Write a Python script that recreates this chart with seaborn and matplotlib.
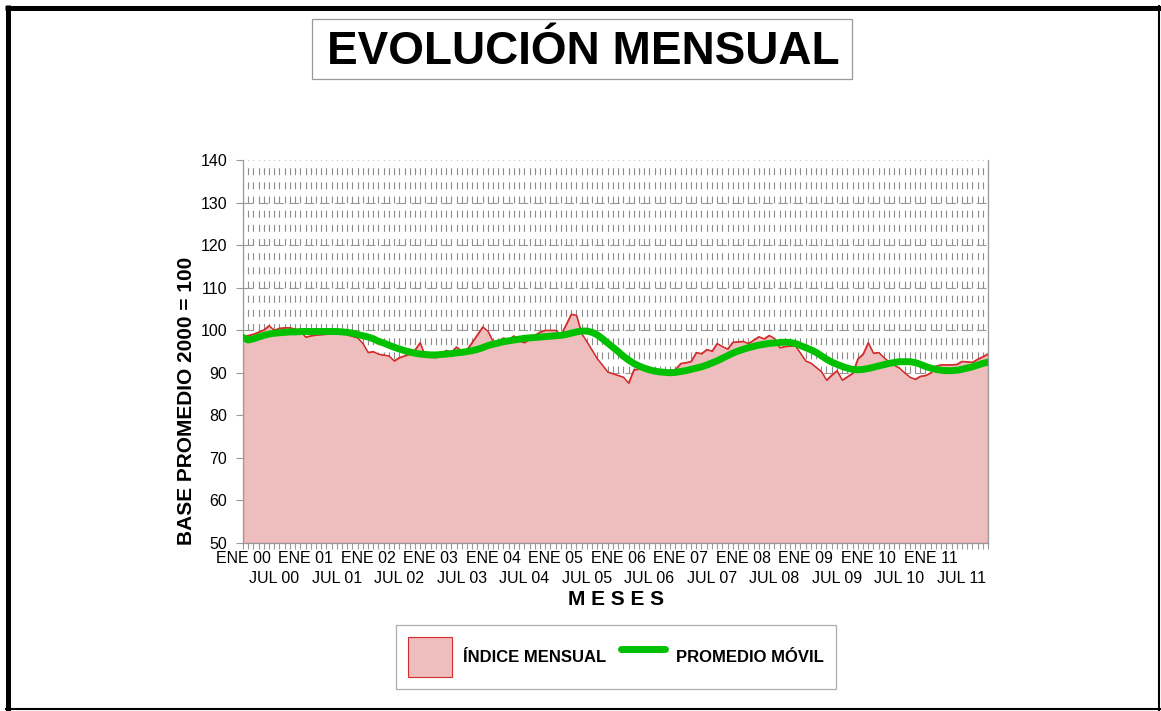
import numpy as np
import pandas as pd
import matplotlib
matplotlib.use("Agg")
import matplotlib.pyplot as plt
import seaborn as sns
from matplotlib.lines import Line2D
from matplotlib.patches import Rectangle
from matplotlib.ticker import FixedLocator, FuncFormatter

# ---------------- data ----------------
years = ["00", "01", "02", "03", "04", "05", "06", "07", "08", "09", "10", "11"]
ene_labels = [f"ENE {y}" for y in years]
jul_labels = [f"JUL {y}" for y in years]

indice_mensual = [
    98.4, 98.8, 99.1, 99.6, 100.1, 101.1, 100.0, 100.5, 100.6, 100.6, 100.3, 99.9,   # 2000
    98.4, 98.7, 98.9, 99.0, 99.1, 99.5, 100.3, 99.8, 98.9, 98.6, 98.2, 96.9,         # 2001
    94.8, 95.0, 94.4, 94.2, 94.0, 92.8, 93.6, 94.0, 94.4, 95.4, 97.1, 93.7,          # 2002
    93.7, 93.6, 94.4, 95.3, 94.9, 96.1, 95.1, 95.5, 97.2, 99.0, 100.8, 99.8,         # 2003
    97.3, 97.5, 98.2, 97.8, 98.7, 97.5, 97.1, 98.0, 98.8, 99.6, 100.0, 100.0,        # 2004
    100.0, 98.9, 101.3, 103.8, 103.5, 99.2, 97.3, 95.3, 93.3, 91.8, 90.2, 89.8,      # 2005
    89.4, 89.0, 87.6, 90.7, 90.9, 91.0, 90.7, 90.2, 90.3, 90.4, 90.6, 90.8,          # 2006
    92.2, 92.4, 92.7, 94.8, 94.5, 95.5, 95.1, 96.9, 96.2, 95.6, 97.2, 97.3,          # 2007
    97.4, 96.9, 97.7, 98.5, 98.0, 98.8, 98.1, 95.9, 96.2, 96.3, 96.4, 94.6,          # 2008
    92.8, 92.3, 91.3, 90.3, 88.3, 89.5, 90.5, 88.3, 89.1, 89.9, 93.3, 94.4,          # 2009
    97.1, 94.6, 94.8, 93.6, 92.6, 91.8, 91.1, 90.0, 89.0, 88.5, 89.2, 89.4,          # 2010
    90.0, 91.6, 91.9, 91.9, 91.9, 92.0, 92.7, 92.6, 92.5, 93.2, 93.8, 94.5,          # 2011
]

promedio_movil = [
    98.3, 97.7, 98.0, 98.4, 98.8, 99.1, 99.3, 99.4, 99.5, 99.6, 99.6, 99.7,   # 2000
    99.7, 99.7, 99.7, 99.7, 99.7, 99.7, 99.7, 99.6, 99.5, 99.3, 99.0, 98.7,   # 2001
    98.4, 98.0, 97.4, 97.0, 96.5, 96.0, 95.6, 95.2, 94.9, 94.6, 94.4, 94.3,   # 2002
    94.2, 94.2, 94.3, 94.4, 94.5, 94.7, 94.8, 95.0, 95.2, 95.5, 95.9, 96.4,   # 2003
    96.7, 97.0, 97.3, 97.5, 97.7, 97.9, 98.1, 98.2, 98.3, 98.4, 98.5, 98.6,   # 2004
    98.7, 98.8, 99.0, 99.3, 99.6, 99.8, 99.8, 99.5, 98.9, 98.0, 97.0, 96.0,   # 2005
    95.0, 93.9, 93.0, 92.2, 91.6, 91.1, 90.7, 90.4, 90.2, 90.1, 90.0, 90.1,   # 2006
    90.3, 90.5, 90.8, 91.1, 91.4, 91.8, 92.3, 92.8, 93.4, 94.0, 94.6, 95.1,   # 2007
    95.5, 95.9, 96.2, 96.5, 96.7, 96.9, 97.0, 97.1, 97.2, 97.1, 96.9, 96.4,   # 2008
    95.9, 95.4, 94.8, 94.0, 93.2, 92.5, 92.0, 91.5, 91.1, 90.8, 90.7, 90.8,   # 2009
    91.0, 91.3, 91.6, 91.9, 92.2, 92.4, 92.6, 92.6, 92.6, 92.4, 92.0, 91.5,   # 2010
    91.1, 90.8, 90.6, 90.5, 90.5, 90.6, 90.8, 91.1, 91.4, 91.8, 92.2, 92.5,   # 2011
]

y_ticks = [50, 60, 70, 80, 90, 100, 110, 120, 130, 140]

# ---------------- style ----------------
PINK = "#EEBEBE"
RED = "#D42A2A"
GREEN = "#00C000"
GREY = "#999999"

sns.set_style("white")
plt.rcParams["font.family"] = ["Liberation Sans", "DejaVu Sans"]
plt.rcParams["lines.scale_dashes"] = False
plt.rcParams["text.color"] = "black"
plt.rcParams["axes.labelcolor"] = "black"

W, H = 1161, 711
fig = plt.figure(figsize=(W / 100, H / 100), dpi=100)
fig.patch.set_facecolor("white")

ax = fig.add_axes([243 / W, 1 - 543 / H, 745 / W, 383 / H])
ax.set_facecolor("white")

df = pd.DataFrame({
    "mes": np.arange(len(indice_mensual)),
    "indice": indice_mensual,
    "promedio": promedio_movil,
})

area = ax.fill_between(df["mes"], 50, df["indice"], facecolor=PINK, edgecolor=RED,
                       linewidth=0.8, zorder=1, label="ÍNDICE MENSUAL")
sns.lineplot(data=df, x="mes", y="indice", color=RED, linewidth=0.9, ax=ax,
             zorder=2, legend=False)
sns.lineplot(data=df, x="mes", y="promedio", color=GREEN, linewidth=5, ax=ax,
             zorder=3, legend=False)

ax.set_xlim(0, len(indice_mensual) - 1)
ax.set_ylim(y_ticks[0], y_ticks[-1])
ax.set_xlabel("")
ax.set_ylabel("")

# y axis
ax.set_yticks(y_ticks)
ax.tick_params(axis="y", which="major", left=True, length=5, width=0.8, color=GREY,
               pad=6.5, labelsize=11.5, labelcolor="black")

# x axis: ENE on major ticks, JUL on minor ticks (second row)
n = len(indice_mensual)
ax.xaxis.set_major_locator(FixedLocator(list(range(0, n, 12))))
ax.xaxis.set_minor_locator(FixedLocator(list(range(n))))
ax.xaxis.set_major_formatter(FuncFormatter(lambda x, p: ene_labels[int(round(x)) // 12]))
ax.xaxis.set_minor_formatter(FuncFormatter(
    lambda x, p: jul_labels[int(round(x)) // 12] if int(round(x)) % 12 == 6 else ""))
ax.tick_params(axis="x", which="major", bottom=True, length=4.5, width=0.8, color=GREY,
               pad=1.5, labelsize=11.5, labelcolor="black")
ax.tick_params(axis="x", which="minor", bottom=True, length=4.5, width=0.8, color=GREY,
               pad=16, labelsize=11.5, labelcolor="black")

# grid
ax.set_axisbelow(True)
ax.grid(True, axis="x", which="both", color="#8C8C8C", linewidth=0.8,
        linestyle=(0, (5.0, 5.2)))
ax.grid(True, axis="y", which="major", color=GREY, linewidth=0.8,
        linestyle=(0, (7, 4)))
ax.get_ygridlines()[-1].set_visible(False)

for side in ["left", "right", "bottom"]:
    ax.spines[side].set_visible(True)
    ax.spines[side].set_color(GREY)
    ax.spines[side].set_linewidth(0.9)
ax.spines["top"].set_visible(False)

# axis titles
fig.text(616 / W, 1 - 605 / H, "M E S E S", ha="center", va="baseline",
         fontsize=15, fontweight="bold", color="black")
fig.text(186 / W, 1 - 401 / H, "BASE PROMEDIO 2000 = 100", ha="center", va="center",
         rotation=90, fontsize=15, fontweight="bold", color="black")

# title with box
fig.add_artist(Rectangle((312 / W, 1 - 79 / H), 540 / W, 60 / H, transform=fig.transFigure,
                         fill=False, edgecolor=GREY, linewidth=0.9))
fig.text(583 / W, 1 - 64 / H, "EVOLUCIÓN MENSUAL", ha="center", va="baseline",
         fontsize=33, fontweight="bold", color="black")

# legend
green_handle = Line2D([], [], color=GREEN, linewidth=5)
leg = fig.legend([area, green_handle], ["ÍNDICE MENSUAL", "PROMEDIO MÓVIL"],
                 loc="center", bbox_to_anchor=(616 / W, 1 - 657 / H), ncol=2,
                 frameon=True, fancybox=False, shadow=False, edgecolor=GREY,
                 prop={"weight": "bold", "size": 12},
                 handlelength=2.65, handleheight=3.35, handletextpad=0.65,
                 columnspacing=0.9, borderpad=0.7)
leg.get_frame().set_linewidth(0.9)
for t in leg.get_texts():
    t.set_color("black")

# outer frame
fig.add_artist(Line2D([5 / W, 1], [1 - 7.5 / H, 1 - 7.5 / H], transform=fig.transFigure,
                      color="black", linewidth=3.6, solid_capstyle="butt"))
fig.add_artist(Line2D([7.5 / W, 7.5 / W], [0, 1 - 5 / H], transform=fig.transFigure,
                      color="black", linewidth=3.6, solid_capstyle="butt"))
fig.add_artist(Line2D([1158.5 / W, 1158.5 / W], [0, 1 - 5 / H], transform=fig.transFigure,
                      color="black", linewidth=1.5, solid_capstyle="butt"))
fig.add_artist(Line2D([5 / W, 1], [1 - 708.5 / H, 1 - 708.5 / H], transform=fig.transFigure,
                      color="black", linewidth=1.5, solid_capstyle="butt"))

fig.savefig("out.png", dpi=100)
